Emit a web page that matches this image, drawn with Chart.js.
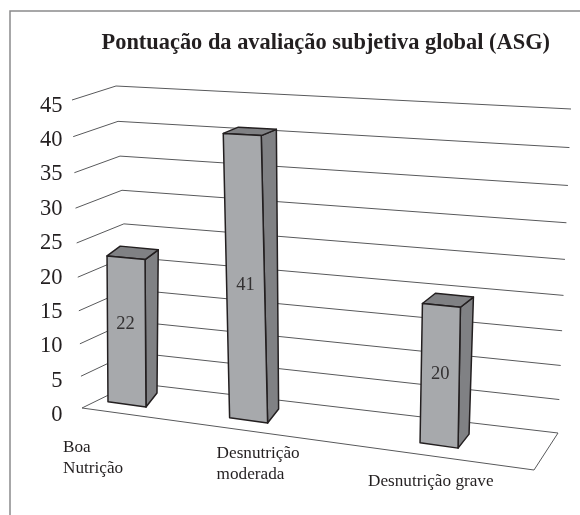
<!DOCTYPE html>
<html>
<head>
<meta charset="utf-8">
<style>
  html, body { margin: 0; padding: 0; background: #fff; }
  canvas { display: block; }
</style>
<script src="https://cdn.jsdelivr.net/npm/chart.js@4.5.1/dist/chart.umd.js"></script>
</head>
<body>
<canvas id="chart" width="580" height="515"></canvas>
<script>
const categories = [["Boa", "Nutrição"], ["Desnutrição", "moderada"], ["Desnutrição grave"]];
const scores = [22, 41, 20];
const title = "Pontuação da avaliação subjetiva global (ASG)";

const FONT = "'Liberation Serif', serif";
const INK = "#231f20";

// where the 3D box sits on the page: [front-left, front-right, back-left, back-right]
const FLOOR = [[82, 408], [534, 470], [133, 383], [558, 433]];
const CEILING = [[72, 100], [544, 140], [116, 86], [571, 109]];
const BAR_DEPTH = 0.3;

// label placement relative to the bar
const LABEL_OFFSETS = [[-64, 43], [-32, 33], [-71, 36]];
const VALUE_NUDGE = [[-1, -7], [0, 8], [0, -1]];
// the columns do not lean quite like the walls do
const TOP_LEAN = [4, -2.5, 0];

const lerp = (a, b, t) => a + (b - a) * t;

function project(u, v, w) {
  // the reference has slightly uneven spacing, so bend v a bit
  const vv = v - 0.08 * v * (1 - v);
  const out = [];
  for (let i = 0; i < 2; i++) {
    const low = lerp(lerp(FLOOR[0][i], FLOOR[1][i], u), lerp(FLOOR[2][i], FLOOR[3][i], u), w);
    const high = lerp(lerp(CEILING[0][i], CEILING[1][i], u), lerp(CEILING[2][i], CEILING[3][i], u), w);
    out.push(lerp(low, high, vv));
  }
  return out;
}

// bars recede along the axis, closer together on the left
function warpCategory(u) {
  return -0.012 + 0.357 * u + 0.6975 * u * u;
}

function poly(ctx, points, fill) {
  ctx.beginPath();
  points.forEach((p, i) => (i ? ctx.lineTo(p[0], p[1]) : ctx.moveTo(p[0], p[1])));
  ctx.closePath();
  ctx.fillStyle = fill;
  ctx.fill();
  ctx.stroke();
}

function line(ctx, points) {
  ctx.beginPath();
  points.forEach((p, i) => (i ? ctx.lineTo(p[0], p[1]) : ctx.moveTo(p[0], p[1])));
  ctx.stroke();
}

const scene3d = {
  id: "scene3d",
  beforeDatasetsDraw(chart) {
    const { ctx, chartArea, scales } = chart;
    ctx.save();

    // frame of the figure
    ctx.strokeStyle = "#8a8a8c";
    ctx.lineWidth = 1.5;
    line(ctx, [[10, 515], [10, 11], [580, 11]]);

    ctx.strokeStyle = "#58595b";
    ctx.lineWidth = 1;
    scales.y.ticks.forEach((tick) => {
      const v = (chartArea.bottom - scales.y.getPixelForValue(tick.value)) / chartArea.height;
      line(ctx, [project(0, v, 0), project(0, v, 1), project(1, v, 1)]);
    });
    line(ctx, [project(0, 0, 0), project(1, 0, 0), project(1, 0, 1)]);
    ctx.restore();
  },
  afterDatasetsDraw(chart) {
    const { ctx, chartArea } = chart;
    const meta = chart.getDatasetMeta(0);
    ctx.save();
    ctx.strokeStyle = INK;
    ctx.lineWidth = 1.5;
    ctx.lineJoin = "round";

    meta.data.forEach((bar, i) => {
      const u = warpCategory((bar.x - chartArea.left) / chartArea.width);
      const v = (chartArea.bottom - bar.y) / chartArea.height;
      const half = bar.width / 2;
      const base = project(u, 0, BAR_DEPTH);
      const top = project(u, v, BAR_DEPTH);
      top[0] += TOP_LEAN[i];
      top[1] -= 3;

      const topSlope = 0.14 - 0.09 * v;
      const bl = [base[0] - half, base[1] - half * 0.14];
      const br = [base[0] + half, base[1] + half * 0.14];
      const tl = [top[0] - half, top[1] - half * topSlope];
      const tr = [top[0] + half, top[1] + half * topSlope];

      // depth of the column flattens out the higher it goes
      const back = (p, h) => [p[0] + 11 + 4.5 * h, p[1] - 14 + 8.5 * h];

      poly(ctx, [tr, br, back(br, 0), back(tr, v)], "#808184");
      poly(ctx, [tl, tr, back(tr, v), back(tl, v)], "#808184");
      poly(ctx, [bl, br, tr, tl], "#a7a9ac");

      ctx.fillStyle = "#333132";
      ctx.font = "18.5px " + FONT;
      ctx.textAlign = "center";
      ctx.textBaseline = "middle";
      ctx.fillText(String(scores[i]), (bl[0] + tr[0]) / 2 + VALUE_NUDGE[i][0], (bl[1] + tr[1]) / 2 + VALUE_NUDGE[i][1]);

      ctx.fillStyle = INK;
      ctx.font = "17.2px " + FONT;
      ctx.textAlign = "left";
      categories[i].forEach((text, n) => {
        ctx.fillText(text, base[0] + LABEL_OFFSETS[i][0], base[1] + LABEL_OFFSETS[i][1] + n * 21);
      });
    });
    ctx.restore();
  }
};

new Chart(document.getElementById("chart"), {
  type: "bar",
  data: {
    labels: categories,
    datasets: [{
      data: scores,
      backgroundColor: "rgba(0, 0, 0, 0)",
      barThickness: 38
    }]
  },
  plugins: [scene3d],
  options: {
    responsive: false,
    animation: false,
    layout: { padding: { left: 38, right: 30, top: 0, bottom: 100 } },
    plugins: {
      legend: { display: false },
      tooltip: { enabled: false },
      title: {
        display: true,
        text: title,
        align: "end",
        color: INK,
        font: { family: FONT, size: 22.4, weight: "bold" },
        padding: { top: 30, bottom: 49 }
      }
    },
    scales: {
      x: { display: false },
      y: {
        min: 0,
        max: 45,
        grid: { display: false },
        border: { display: false },
        ticks: {
          stepSize: 5,
          color: INK,
          padding: 2,
          font: { family: FONT, size: 22.5 }
        }
      }
    }
  }
});
</script>
</body>
</html>
